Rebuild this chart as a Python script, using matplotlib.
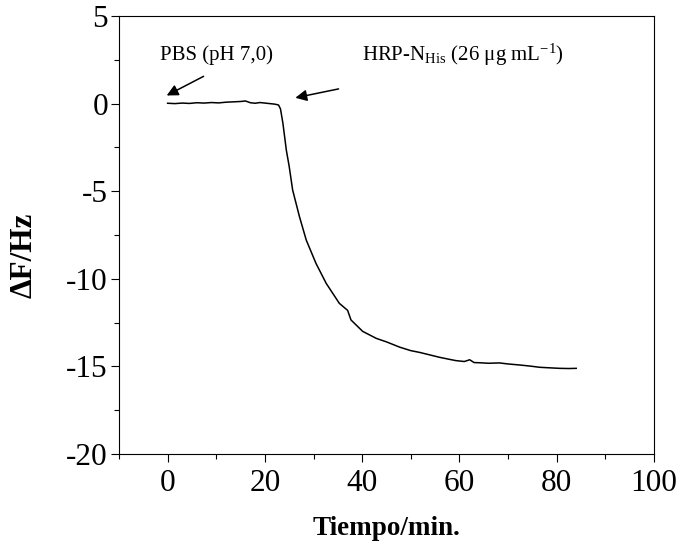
import numpy as np
import matplotlib
matplotlib.use("Agg")
import matplotlib.pyplot as plt
from matplotlib.ticker import MultipleLocator

plt.rcParams['font.family'] = ['Liberation Serif', 'DejaVu Serif']
plt.rcParams['mathtext.fontset'] = 'custom'
plt.rcParams['mathtext.rm'] = 'Liberation Serif'
plt.rcParams['mathtext.it'] = 'Liberation Serif:italic'
plt.rcParams['mathtext.bf'] = 'Liberation Serif:bold'
plt.rcParams['axes.unicode_minus'] = False

# Frecuencia frente al tiempo
tiempo = [0.0, 1.5, 3.0, 4.5, 6.0, 7.5, 9.0, 10.5, 12.0, 13.5, 15.0, 16.0, 17.0,
          18.0, 19.0, 20.0, 21.0, 22.0, 22.8, 23.2, 23.7, 24.4, 25.0, 25.7,
          27.1, 28.5, 30.5, 32.6, 35.3, 37.0, 37.7, 40.1, 42.9, 45.0, 47.7,
          50.0, 51.8, 54.0, 55.9, 58.0, 59.3, 61.0, 62.1, 63.0, 64.1, 66.0,
          68.2, 70.0, 72.4, 74.5, 76.5, 78.5, 80.6, 82.5, 84.0]
delta_f = [0.02, 0.0, 0.03, 0.01, 0.05, 0.03, 0.06, 0.04, 0.08, 0.1, 0.12, 0.15,
           0.05, 0.02, 0.06, 0.03, 0.0, -0.03, -0.08, -0.3, -1.12, -2.65, -3.6,
           -4.93, -6.45, -7.79, -9.12, -10.26, -11.4, -11.8, -12.35, -13.0,
           -13.4, -13.6, -13.9, -14.1, -14.2, -14.35, -14.48, -14.6, -14.67,
           -14.72, -14.62, -14.78, -14.79, -14.82, -14.8, -14.86, -14.92, -14.98,
           -15.05, -15.08, -15.11, -15.12, -15.11]

fig = plt.figure(figsize=(6.91, 5.44), dpi=100)
ax = fig.add_axes([0.1722, 0.1654, 0.7743, 0.8052])
ax.plot(tiempo, delta_f, color='black', linewidth=1.1)

ax.set_xlim(-10, 100)
ax.set_ylim(-20, 5)
ax.xaxis.set_major_locator(MultipleLocator(20))
ax.xaxis.set_minor_locator(MultipleLocator(10))
ax.yaxis.set_major_locator(MultipleLocator(5))
ax.yaxis.set_minor_locator(MultipleLocator(2.5))
ax.tick_params(which='major', direction='out', length=6, width=0.8, labelsize=22.5)
ax.tick_params(axis='x', which='major', pad=5)
ax.tick_params(axis='y', which='major', pad=2)
ax.tick_params(which='minor', direction='out', length=3.3, width=0.8)
for s in ax.spines.values():
    s.set_linewidth(0.8)

ax.set_xlabel('Tiempo/min.', fontsize=19.5, fontweight='bold', labelpad=13)
ax.set_ylabel('ΔF/Hz', fontsize=22.5, fontweight='bold')
ax.yaxis.set_label_coords(-0.15, 0.454)

ax.annotate('', xy=(-0.7, 0.39), xytext=(7.9, 1.63),
            arrowprops=dict(arrowstyle='-|>', color='black', lw=1.1, mutation_scale=17))
ax.annotate('', xy=(25.7, 0.30), xytext=(35.7, 0.87),
            arrowprops=dict(arrowstyle='-|>', color='black', lw=1.1, mutation_scale=17))
ax.text(-1.5, 2.77, 'PBS (pH 7,0)', fontsize=15, va='center', ha='left')
ax.text(39.9, 2.77, r'HRP-N$_{\mathrm{His}}$ (26 μg mL$^{\mathrm{-1}}$)',
        fontsize=15, va='center', ha='left')

fig.savefig('out.png', dpi=100)
